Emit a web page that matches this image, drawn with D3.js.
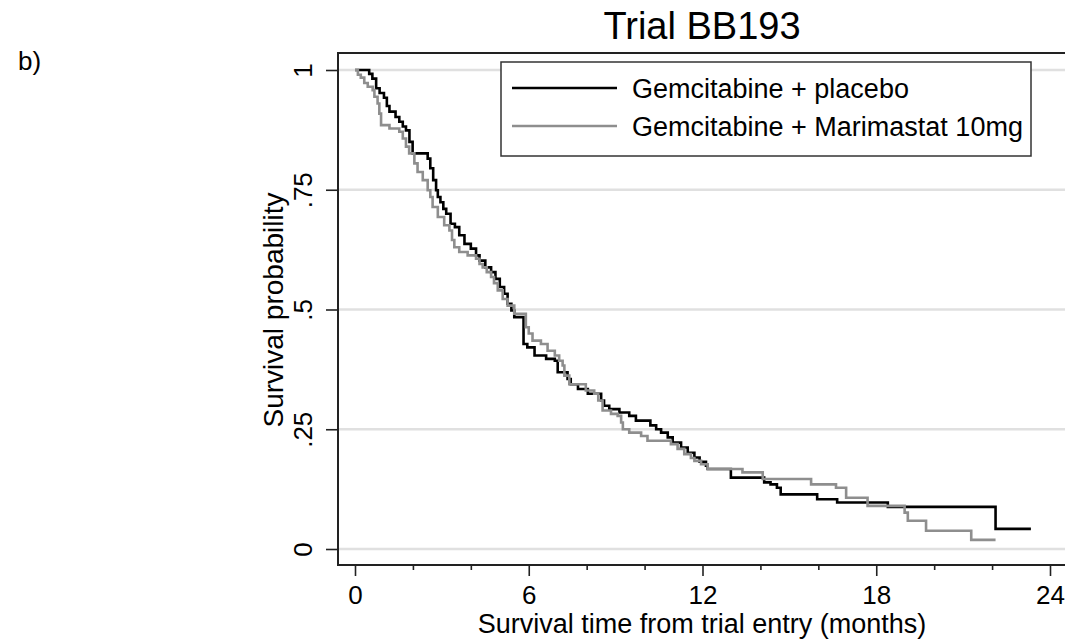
<!DOCTYPE html>
<html>
<head>
<meta charset="utf-8">
<script src="https://cdn.jsdelivr.net/npm/d3@7"></script>
<style>
  html, body { margin: 0; padding: 0; background: #fff; }
  svg { display: block; }
  text { font-family: "Liberation Sans", Arial, sans-serif; fill: #000; }
</style>
</head>
<body>
<svg id="chart" width="1065" height="639"></svg>
<script>
// ---- Data ----
const seriesNames = ["Gemcitabine + placebo", "Gemcitabine + Marimastat 10mg"];
const title = "Trial BB193";
const panelLabel = "b)";
const xLabel = "Survival time from trial entry (months)";
const yLabel = "Survival probability";
const xMajorTicks = [0, 6, 12, 18, 24];
const xMinorTicks = [2, 4, 8, 10, 14, 16, 20, 22];
const yTicks = [0, 0.25, 0.5, 0.75, 1];
const yTickLabels = ["0", ".25", ".5", ".75", "1"];

// Kaplan-Meier step points: time (months) at which survival drops to the value
const placeboTime = [0, 0.49, 0.6, 0.73, 0.85, 1.0, 1.1, 1.19, 1.4, 1.53, 1.65, 1.76, 1.88, 1.99, 2.51, 2.6, 2.7, 2.8, 2.86, 2.95, 3.05, 3.15, 3.3, 3.45, 3.6, 3.78, 4.0, 4.18, 4.3, 4.5, 4.7, 4.85, 5.0, 5.15, 5.27, 5.4, 5.5, 5.82, 5.95, 6.2, 6.6, 6.9, 7.0, 7.34, 7.45, 7.7, 8.04, 8.5, 8.6, 8.78, 9.13, 9.47, 9.7, 10.2, 10.4, 10.57, 10.8, 10.97, 11.26, 11.49, 11.72, 11.9, 12.12, 12.18, 12.98, 14.13, 14.35, 14.57, 14.7, 15.96, 16.65, 18.4, 22.12];
const placeboSurv = [1.0, 0.992, 0.982, 0.962, 0.952, 0.942, 0.925, 0.913, 0.902, 0.892, 0.882, 0.874, 0.85, 0.826, 0.815, 0.795, 0.77, 0.749, 0.735, 0.724, 0.71, 0.70, 0.679, 0.672, 0.655, 0.637, 0.627, 0.613, 0.602, 0.588, 0.578, 0.564, 0.547, 0.533, 0.512, 0.498, 0.484, 0.428, 0.421, 0.404, 0.397, 0.393, 0.369, 0.355, 0.344, 0.334, 0.324, 0.310, 0.299, 0.292, 0.285, 0.278, 0.268, 0.258, 0.250, 0.243, 0.233, 0.222, 0.212, 0.201, 0.191, 0.182, 0.174, 0.167, 0.149, 0.139, 0.135, 0.128, 0.114, 0.104, 0.097, 0.088, 0.042];
const placeboEnd = 23.34;

const marimastatTime = [0, 0.1, 0.2, 0.32, 0.44, 0.61, 0.67, 0.78, 0.84, 0.9, 1.19, 1.53, 1.65, 1.76, 1.87, 2.05, 2.16, 2.34, 2.51, 2.6, 2.68, 2.86, 3.08, 3.26, 3.35, 3.43, 3.6, 3.89, 4.18, 4.3, 4.41, 4.55, 4.7, 4.8, 4.93, 5.1, 5.27, 5.5, 5.9, 6.0, 6.13, 6.42, 6.65, 6.9, 7.05, 7.17, 7.23, 7.4, 7.97, 8.26, 8.4, 8.55, 8.84, 9.07, 9.19, 9.25, 9.47, 9.88, 10.1, 10.91, 11.14, 11.37, 11.6, 11.72, 11.95, 12.18, 13.38, 14.08, 15.75, 16.61, 16.96, 17.7, 18.98, 19.09, 19.72, 21.28];
const marimastatSurv = [1.0, 0.99, 0.984, 0.973, 0.965, 0.958, 0.944, 0.930, 0.909, 0.885, 0.878, 0.871, 0.857, 0.84, 0.826, 0.805, 0.787, 0.770, 0.749, 0.735, 0.714, 0.693, 0.676, 0.665, 0.645, 0.630, 0.620, 0.613, 0.606, 0.595, 0.588, 0.578, 0.568, 0.555, 0.540, 0.522, 0.508, 0.491, 0.463, 0.45, 0.435, 0.428, 0.414, 0.404, 0.393, 0.383, 0.362, 0.344, 0.331, 0.324, 0.31, 0.289, 0.282, 0.278, 0.264, 0.25, 0.243, 0.236, 0.226, 0.219, 0.209, 0.198, 0.19, 0.184, 0.177, 0.167, 0.160, 0.146, 0.135, 0.128, 0.107, 0.090, 0.076, 0.059, 0.038, 0.019];
const marimastatEnd = 22.12;

const seriesColors = ["#000000", "#8e8e8e"];

// ---- Layout ----
const svg = d3.select("#chart");
const box = { left: 338, top: 53, right: 1070, bottom: 565 };
const x = d3.scaleLinear().domain([0, 24]).range([355, 1050]);
const y = d3.scaleLinear().domain([0, 1]).range([549, 70]);

// panel label and title
svg.append("text").attr("x", 18).attr("y", 70).style("font-size", "26px").text(panelLabel);
svg.append("text").attr("x", 702).attr("y", 39).attr("text-anchor", "middle")
  .style("font-size", "38px").text(title);

// gridlines
svg.append("g").selectAll("line").data(yTicks).join("line")
  .attr("x1", box.left + 1).attr("x2", 1065)
  .attr("y1", d => y(d)).attr("y2", d => y(d))
  .attr("stroke", "#e0e0e0").attr("stroke-width", 2.5);

// curves
function toPoints(times, surv, end) {
  const pts = times.map((t, i) => [t, surv[i]]);
  pts.push([end, surv[surv.length - 1]]);
  return pts;
}
const line = d3.line().x(d => x(d[0])).y(d => y(d[1])).curve(d3.curveStepAfter);
const curves = [
  toPoints(placeboTime, placeboSurv, placeboEnd),
  toPoints(marimastatTime, marimastatSurv, marimastatEnd)
];
svg.append("g").selectAll("path").data(curves).join("path")
  .attr("d", line).attr("fill", "none")
  .attr("stroke", (d, i) => seriesColors[i]).attr("stroke-width", 2.6)
  .attr("stroke-linejoin", "miter");

// plot box (left, top, bottom)
svg.append("path")
  .attr("d", `M${box.right},${box.top}H${box.left}V${box.bottom}H${box.right}`)
  .attr("fill", "none").attr("stroke", "#222").attr("stroke-width", 2);

// x axis major ticks
const xAxisMajor = d3.axisBottom(x).tickValues(xMajorTicks).tickSize(11).tickPadding(12)
  .tickFormat(d3.format("d"));
const gx = svg.append("g").attr("transform", `translate(0,${box.bottom})`).call(xAxisMajor);
gx.select(".domain").remove();
gx.selectAll(".tick line").attr("stroke", "#222").attr("stroke-width", 1.6);
gx.selectAll(".tick text").style("font-size", "26px")
  .attr("font-family", null).attr("dy", null).attr("y", 39);

const xAxisMinor = d3.axisBottom(x).tickValues(xMinorTicks).tickSize(5).tickFormat("");
const gxm = svg.append("g").attr("transform", `translate(0,${box.bottom})`).call(xAxisMinor);
gxm.select(".domain").remove();
gxm.selectAll(".tick line").attr("stroke", "#222").attr("stroke-width", 1.6);

// y axis
const yAxis = d3.axisLeft(y).tickValues(yTicks).tickSize(12)
  .tickFormat((d, i) => yTickLabels[i]);
const gy = svg.append("g").attr("transform", `translate(${box.left},0)`).call(yAxis);
gy.select(".domain").remove();
gy.selectAll(".tick line").attr("stroke", "#222").attr("stroke-width", 1.6);
gy.selectAll(".tick text").style("font-size", "26px")
  .attr("text-anchor", "middle").attr("dy", null)
  .attr("x", 0).attr("y", -26)
  .attr("transform", "rotate(-90)");

// axis titles
svg.append("text").attr("x", 702).attr("y", 633).attr("text-anchor", "middle")
  .style("font-size", "27px").text(xLabel);
svg.append("text").attr("transform", `translate(283,310) rotate(-90)`)
  .attr("text-anchor", "middle").style("font-size", "28px").text(yLabel);

// legend
const lg = svg.append("g");
lg.append("rect").attr("x", 501).attr("y", 62).attr("width", 530).attr("height", 94)
  .attr("fill", "#fff").attr("stroke", "#333").attr("stroke-width", 1.5);
const legendRows = lg.selectAll("g.row").data(seriesNames).join("g").attr("class", "row")
  .attr("transform", (d, i) => `translate(0,${88 + i * 38})`);
legendRows.append("line").attr("x1", 512).attr("x2", 617).attr("y1", 0).attr("y2", 0)
  .attr("stroke", (d, i) => seriesColors[i]).attr("stroke-width", 2.6);
legendRows.append("text").attr("x", 632).attr("y", 9.5).style("font-size", "27px").text(d => d);
</script>
</body>
</html>
